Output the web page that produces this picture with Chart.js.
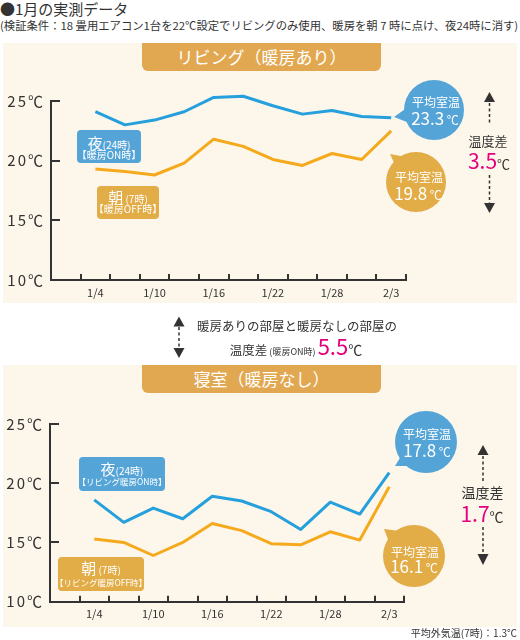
<!DOCTYPE html>
<html><head><meta charset="utf-8">
<script src="https://cdn.jsdelivr.net/npm/chart.js@4/dist/chart.umd.min.js"></script>
<style>
html,body{margin:0;padding:0;background:#fff;}
#root{position:relative;width:520px;height:640px;overflow:hidden;font-family:'Noto Sans CJK JP','Noto Sans',sans-serif;color:#333;}
.abs{position:absolute;}
.t{position:absolute;white-space:nowrap;line-height:1;transform:translate(-50%,-50%);}
.panel{position:absolute;left:3px;width:514px;background:#fdf6ea;}
.banner{position:absolute;left:142px;width:239px;height:28px;background:#e2a851;color:#fff;font-size:17px;line-height:28px;text-align:center;border-radius:0 0 6px 6px;}
.box{position:absolute;border-radius:4px;color:#fff;}
.blue{background:#54a4d7;}
.orange{background:#e2ac46;}
canvas{position:absolute;left:0;}
.w{color:#fff;}
.mg{color:#e4007f;}
</style></head>
<body><div id="root">
<div class="abs" style="left:0;top:0;font-size:15px;line-height:17px;white-space:nowrap;">●1月の実測データ</div>
<div id="sub" class="abs" style="left:0;top:18px;font-size:11px;line-height:14px;white-space:nowrap;transform-origin:0 50%;">(検証条件：18 畳用エアコン1台を22℃設定でリビングのみ使用、暖房を朝 7 時に点け、夜24時に消す)</div>

<div class="panel" style="top:43px;height:260px;"></div>
<div class="banner" style="top:43px;">リビング（暖房あり）</div>
<div class="panel" style="top:365px;height:262px;"></div>
<div class="banner" style="top:365px;">寝室（暖房なし）</div>

<canvas id="c1" width="420" height="215" style="top:84.5px;"></canvas>
<canvas id="c2" width="420" height="217" style="top:408px;"></canvas>

<svg class="abs" width="520" height="640" style="left:0;top:0;">
  <g fill="#54a4d7"><circle cx="434" cy="110" r="30"/><path d="M394,117 L408,107 L407,122 Z"/></g>
  <g fill="#e2ac46"><circle cx="416" cy="182" r="30"/><path d="M390,154 L396,167 L406,157 Z"/></g>
  <g fill="#54a4d7"><circle cx="426" cy="442" r="31"/><path d="M395,466 L403,453 L411,466 Z"/></g>
  <g fill="#e2ac46"><circle cx="414" cy="556" r="31"/><path d="M384,529 L389,542 L399,531 Z"/></g>
  <g fill="#333">
    <path d="M489.5,92 L495,102 L484,102 Z"/><path d="M484,203 L495,203 L489.5,213 Z"/>
    <path d="M179,316.5 L184.5,326.5 L173.5,326.5 Z"/><path d="M173.5,348 L184.5,348 L179,358 Z"/>
    <path d="M483,445 L488.5,455 L477.5,455 Z"/><path d="M477.5,554 L488.5,554 L483,565 Z"/>
  </g>
  <g stroke="#333" stroke-width="1.5" stroke-dasharray="3 2.5" fill="none">
    <path d="M489.5,103 V125 M489.5,175 V203"/>
    <path d="M179,327 V348"/>
    <path d="M483,456 V482 M483,527 V554"/>
  </g>
</svg>

<!-- top chart labels -->
<div class="box blue" style="left:77px;top:130px;width:64px;height:33px;"></div>
<div class="t w" style="left:109px;top:142px;"><span style="font-size:15px">夜</span><span style="font-size:10px">(24時)</span></div>
<div class="t w" style="left:109px;top:155px;font-size:10px;">【暖房ON時】</div>
<div class="box orange" style="left:97px;top:186px;width:62px;height:33px;"></div>
<div class="t w" style="left:128px;top:196px;"><span style="font-size:15px">朝</span><span style="font-size:10px"> (7時)</span></div>
<div class="t w" style="left:128px;top:209px;font-size:10px;">【暖房OFF時】</div>

<div class="t w" style="left:436px;top:102px;font-size:12px;">平均室温</div>
<div class="t w" style="left:435px;top:117px;"><span style="font-size:17px">23.3</span><span style="font-size:12px"> ℃</span></div>
<div class="t w" style="left:419px;top:177px;font-size:12px;">平均室温</div>
<div class="t w" style="left:418px;top:192px;"><span style="font-size:17px">19.8</span><span style="font-size:12px"> ℃</span></div>
<div class="t" style="left:488px;top:140px;font-size:13px;">温度差</div>
<div class="t" style="left:489px;top:160px;"><span class="mg" style="font-size:21px">3.5</span><span style="font-size:13px">℃</span></div>

<!-- middle -->
<div class="t" style="left:297px;top:326px;font-size:12.5px;">暖房ありの部屋と暖房なしの部屋の</div>
<div class="t" style="left:296px;top:345px;"><span style="font-size:12.5px">温度差</span><span style="font-size:9px"> (暖房ON時) </span><span class="mg" style="font-size:22px">5.5</span><span style="font-size:14px">℃</span></div>

<!-- bottom chart labels -->
<div class="box blue" style="left:79px;top:457px;width:86px;height:34px;"></div>
<div class="t w" style="left:122px;top:468px;"><span style="font-size:15px">夜</span><span style="font-size:10px">(24時)</span></div>
<div class="t w" style="left:122px;top:481px;font-size:8.5px;">【リビング暖房ON時】</div>
<div class="box orange" style="left:58px;top:557px;width:86px;height:34px;"></div>
<div class="t w" style="left:101px;top:567px;"><span style="font-size:15px">朝</span><span style="font-size:10px"> (7時)</span></div>
<div class="t w" style="left:101px;top:582px;font-size:8.5px;">【リビング暖房OFF時】</div>

<div class="t w" style="left:427px;top:434px;font-size:12px;">平均室温</div>
<div class="t w" style="left:427px;top:449px;"><span style="font-size:17px">17.8</span><span style="font-size:12px"> ℃</span></div>
<div class="t w" style="left:415px;top:552px;font-size:12px;">平均室温</div>
<div class="t w" style="left:414px;top:565px;"><span style="font-size:17px">16.1</span><span style="font-size:12px"> ℃</span></div>
<div class="t" style="left:482.5px;top:492px;font-size:14px;">温度差</div>
<div class="t" style="left:482px;top:513px;"><span class="mg" style="font-size:21px">1.7</span><span style="font-size:14px">℃</span></div>

<div class="abs" style="right:3px;top:627px;font-size:10px;line-height:12px;white-space:nowrap;">平均外気温(7時)：1.3℃</div>
</div>

<script>
// ---- data ----
const categories = ['1/1','1/4','1/7','1/10','1/13','1/16','1/19','1/22','1/25','1/28','1/31','2/3'];
const dates = ['1/4','1/7','1/10','1/13','1/16','1/19','1/22','1/25','1/28','1/31','2/3'];
const tickLabels = ['1/4','1/10','1/16','1/22','1/28','2/3'];
const yTickValues = [10, 15, 20, 25];
const livingNight   = [24.1, 23.0, 23.4, 24.1, 25.3, 25.4, 24.6, 23.9, 24.2, 23.7, 23.6];
const livingMorning = [19.3, 19.1, 18.8, 19.8, 21.8, 21.2, 20.1, 19.6, 20.6, 20.1, 22.5];
const bedroomNight   = [18.6, 16.7, 17.9, 17.0, 18.9, 18.5, 17.6, 16.1, 18.4, 17.4, 20.9];
const bedroomMorning = [15.3, 15.0, 13.9, 15.0, 16.6, 16.0, 14.9, 14.8, 15.9, 15.2, 19.7];

const BLUE = '#25a0dc', ORANGE = '#f5aa1e', AXIS = '#333';

// fit subtitle width
(function(){const s=document.getElementById('sub');const w=s.scrollWidth;if(w>0)s.style.transform='scaleX('+(518/w)+')';})();

Chart.defaults.font.family = "'Noto Sans CJK JP','Noto Sans',sans-serif";

const spacedY = {
  id: 'spacedY',
  beforeDraw(chart) {
    const s = chart.scales.y;
    if (s && !s.__spaced) {
      const orig = s.drawLabels;
      s.drawLabels = function(area) {
        const ctx = this.ctx; ctx.save(); ctx.letterSpacing = '2px'; orig.call(this, area); ctx.restore();
      };
      s.__spaced = true;
    }
  }
};

// tick marks pointing into the plot, placed from the scales
const innerTicks = {
  id: 'innerTicks',
  beforeDatasetsDraw(chart) {
    const {ctx, scales: {x, y}} = chart;
    ctx.save();
    ctx.strokeStyle = AXIS; ctx.lineWidth = 2;
    ctx.beginPath();
    for (let i = 0; i <= categories.length; i++) {
      const px = Math.round(x.getPixelForValue(i - 0.5));
      ctx.moveTo(px, x.top); ctx.lineTo(px, x.top - 6);
    }
    yTickValues.forEach(v => {
      const py = Math.round(y.getPixelForValue(v));
      ctx.moveTo(y.right, py); ctx.lineTo(y.right + 9, py);
    });
    ctx.stroke();
    ctx.restore();
  }
};

function makeChart(id, night, morning, cfg) {
  return new Chart(document.getElementById(id), {
    type: 'line',
    data: {
      labels: categories,
      datasets: [
        {label: '夜', data: dates.map((d, i) => ({x: d, y: night[i]})), borderColor: BLUE, borderWidth: 3, pointRadius: 0, tension: 0, fill: false, clip: false, borderJoinStyle: 'round'},
        {label: '朝', data: dates.map((d, i) => ({x: d, y: morning[i]})), borderColor: ORANGE, borderWidth: 3, pointRadius: 0, tension: 0, fill: false, clip: false, borderJoinStyle: 'round'}
      ]
    },
    options: {
      responsive: false, animation: false, events: [],
      layout: {padding: {top: cfg.padTop, right: cfg.padRight, left: 0, bottom: 0}},
      plugins: {legend: {display: false}, tooltip: {enabled: false}},
      scales: {
        x: {
          type: 'category', offset: true,
          grid: {offset: true, drawOnChartArea: false, drawTicks: false, tickLength: 0},
          border: {display: true, color: AXIS, width: 2},
          ticks: {autoSkip: false, maxRotation: 0, padding: 6, color: AXIS, font: {size: 11},
            callback(v) { const l = this.getLabelForValue(v); return tickLabels.includes(l) ? l : ''; }},
          afterFit(s) { s.height = cfg.xH; }
        },
        y: {
          min: 10, max: 25,
          afterBuildTicks(s) { s.ticks = yTickValues.map(v => ({value: v})); },
          ticks: {padding: 6, color: AXIS, font: {size: 15}, callback: v => v + '℃'},
          grid: {drawOnChartArea: false, drawTicks: false, tickLength: 0},
          border: {display: true, color: AXIS, width: 2},
          afterFit(s) { s.width = cfg.yW; }
        }
      }
    },
    plugins: [spacedY, innerTicks]
  });
}

makeChart('c1', livingNight, livingMorning, {padTop: 16, padRight: 14, xH: 20, yW: 51});
makeChart('c2', bedroomNight, bedroomMorning, {padTop: 16, padRight: 16, xH: 23.3, yW: 50});
</script>
</body></html>
